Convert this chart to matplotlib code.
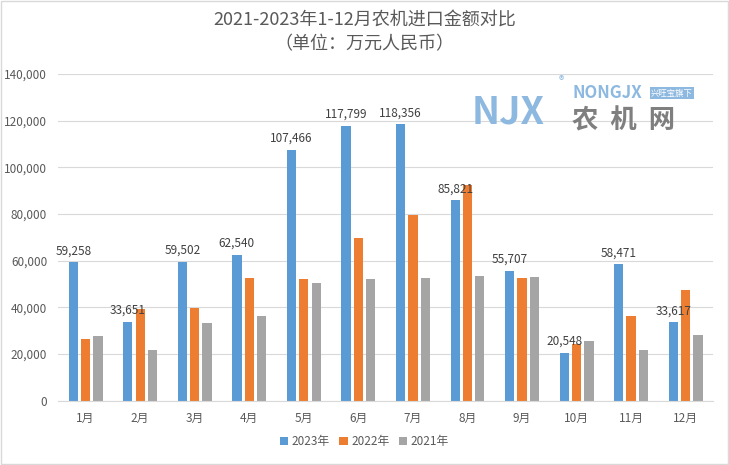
import matplotlib.pyplot as plt
import numpy as np
from matplotlib.patches import Rectangle

plt.rcParams['font.family'] = ['Noto Sans CJK SC', 'DejaVu Sans']

months = ['1月', '2月', '3月', '4月', '5月', '6月', '7月', '8月', '9月', '10月', '11月', '12月']
y2023 = [59258, 33651, 59502, 62540, 107466, 117799, 118356, 85821, 55707, 20548, 58471, 33617]
y2022 = [26500, 39300, 39800, 52500, 52100, 69600, 79400, 92600, 52500, 24300, 36300, 47500]
y2021 = [27900, 21800, 33300, 36300, 50400, 52100, 52500, 53300, 52900, 25600, 21800, 28200]
series = [('2023年', y2023, '#5B9BD5'), ('2022年', y2022, '#ED7D31'), ('2021年', y2021, '#A5A5A5')]

txt = '#595959'
fig = plt.figure(figsize=(7.29, 4.65), dpi=100)
ax = fig.add_axes([0.080, 0.138, 0.898, 0.703])

x = np.arange(len(months))
w = 0.17
step = 0.226
for i, (name, vals, col) in enumerate(series):
    bars = ax.bar(x + (i - 1) * step, vals, w, color=col, label=name, zorder=2)
    if i == 0:
        for b, v in zip(bars, vals):
            ax.text(b.get_x() + b.get_width() / 2, v + 2200, f'{v:,}', ha='center', va='bottom',
                    fontsize=8.5, color='#404040')

ax.set_ylim(0, 140000)
ax.set_xlim(-0.5, 11.5)
ax.set_yticks(range(0, 140001, 20000))
ax.set_yticklabels([f'{v:,}' for v in range(0, 140001, 20000)])
ax.set_xticks(x)
ax.set_xticklabels(months)
ax.tick_params(length=0, labelsize=8.5, colors=txt, pad=8)
ax.grid(axis='y', color='#D9D9D9', lw=0.8, zorder=0)
for s in ['top', 'right', 'left']:
    ax.spines[s].set_visible(False)
ax.spines['bottom'].set_color('#D9D9D9')

fig.text(0.5, 0.955, '2021-2023年1-12月农机进口金额对比', ha='center', va='center', fontsize=13, color=txt)
fig.text(0.5, 0.905, '（单位：万元人民币）', ha='center', va='center', fontsize=13, color=txt)

h, l = ax.get_legend_handles_labels()
fig.legend(h, l, loc='center', bbox_to_anchor=(0.5, 0.05), ncol=3, frameon=False, fontsize=8.5,
           handlelength=0.7, handleheight=0.7, handletextpad=0.3, columnspacing=0.8, labelcolor=txt)

# watermark logo
fig.text(0.647, 0.76, 'NJX', fontsize=27, color='#8DB8E0', fontweight='bold', ha='left', va='center')
fig.text(0.77, 0.825, '®', fontsize=8, color='#8DB8E0', ha='center', va='center')
fig.text(0.785, 0.80, 'NONGJX', fontsize=12, color='#8DB8E0', fontweight='bold', ha='left', va='center')
fig.text(0.893, 0.80, '兴旺宝旗下', fontsize=6, color='white', ha='left', va='center',
         bbox=dict(boxstyle='square,pad=0.15', fc='#8DB8E0', ec='none'))
fig.text(0.785, 0.74, '农  机  网', fontsize=19, color='#7F7F7F', fontweight='bold', ha='left', va='center')

fig.patches.append(Rectangle((0.002, 0.002), 0.996, 0.996, transform=fig.transFigure,
                             fill=False, ec='#D9D9D9', lw=1))

fig.savefig('out.png', dpi=100)
